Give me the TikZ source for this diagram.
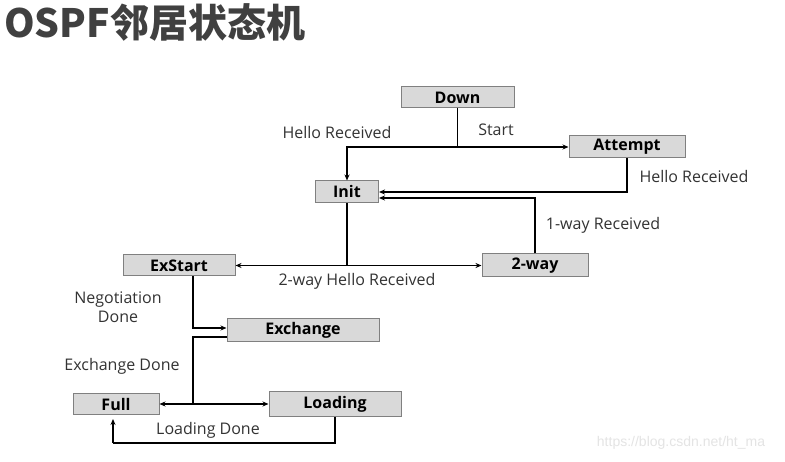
\documentclass[tikz,border=0pt]{standalone}
\usepackage{fontspec}
\setmainfont{Open Sans}
\newfontfamily\cjktitle{Noto Sans CJK SC}
\newfontfamily\wmfont{Liberation Sans}
\usetikzlibrary{arrows.meta,calc}
\definecolor{boxfill}{HTML}{D9D9D9}
\definecolor{boxdraw}{HTML}{808080}
\definecolor{titlecol}{HTML}{404040}
\definecolor{wmcol}{HTML}{E4E4E4}
\begin{document}
\begin{tikzpicture}[x=1pt,y=-1pt,
  state/.style={draw=boxdraw,fill=boxfill,line width=1pt,inner sep=0pt,
    font=\fontsize{16}{18}\selectfont\bfseries},
  lbl/.style={inner sep=0pt,font=\fontsize{16}{19}\selectfont,text=black!80},
  conn/.style={line width=1.6pt,black},
  arr/.style={conn,-{Stealth[length=6pt,width=5pt]}}]
\useasboundingbox (0,0) rectangle (785,462);
\fill[white] (0,0) rectangle (785,462);
% title
\node[anchor=base west,inner sep=0pt,text=titlecol,
  font=\cjktitle\bfseries\fontsize{39}{42}\selectfont] (title) at (4,38) {OSPF邻居状态机};
% states
\node[state,minimum width=113pt,minimum height=21pt] (down) at (457.5,97.5) {Down};
\node[state,minimum width=116pt,minimum height=22pt] (attempt) at (627,147) {Attempt};
\node[state,minimum width=63pt,minimum height=22pt] (init) at (347,192) {Init};
\node[state,minimum width=106pt,minimum height=23pt] (twoway) at (535,265.5) {2-way};
\node[state,minimum width=112pt,minimum height=21pt] (exstart) at (179,265.5) {ExStart};
\node[state,minimum width=152pt,minimum height=23pt] (exchange) at (303,330.5) {Exchange};
\node[state,minimum width=86pt,minimum height=21pt] (full) at (116,404) {Full};
\node[state,minimum width=132pt,minimum height=25pt] (loading) at (335,404) {Loading};
% junctions
\coordinate (j1) at (457.5,147);
\coordinate (j2) at (347,265.5);
\coordinate (j3) at (193,404);
\coordinate (j4) at (335,443);
\coordinate (j5) at (113,443);
% connectors
\draw[conn] (down.south) -- (j1);
\draw[arr] (j1) -| (init.north);
\draw[arr] (j1) -- (attempt.west);
\draw[arr] (attempt.south) |- (init.east);
\draw[arr] (twoway.north) |- ($(init.east)+(0,6)$);
\draw[conn] (init.south) -- (j2);
\draw[arr] (j2) -- (exstart.east);
\draw[arr] (j2) -- (twoway.west);
\draw[arr] ($(exstart.south)+(14,0)$) |- ($(exchange.west)+(0,-2.5)$);
\draw[conn] ($(exchange.west)+(0,6.5)$) -| (j3);
\draw[arr] (j3) -- (full.east);
\draw[arr] (j3) -- (loading.west);
\draw[conn] (loading.south) -- (j4) -- (j5);
\draw[arr,shorten >=4pt] (j5) -- (j5 |- full.south);
% labels
\node[lbl] (l1) at (337,133) {Hello Received};
\node[lbl] (l2) at (496,130) {Start};
\node[lbl] (l3) at (694,177) {Hello Received};
\node[lbl] (l4) at (603,225) {1-way Received};
\node[lbl] (l5) at (357,281) {2-way Hello Received};
\node[lbl,align=center] (l6) at (118,307) {Negotiation\\Done};
\node[lbl] (l7) at (122,366) {Exchange Done};
\node[lbl] (l8) at (208,430) {Loading Done};
% watermark
\node[inner sep=0pt,text=wmcol,font=\wmfont\fontsize{14}{16}\selectfont] (wm) at (681,443) {https://blog.csdn.net/ht\_ma};
\end{tikzpicture}
\end{document}
